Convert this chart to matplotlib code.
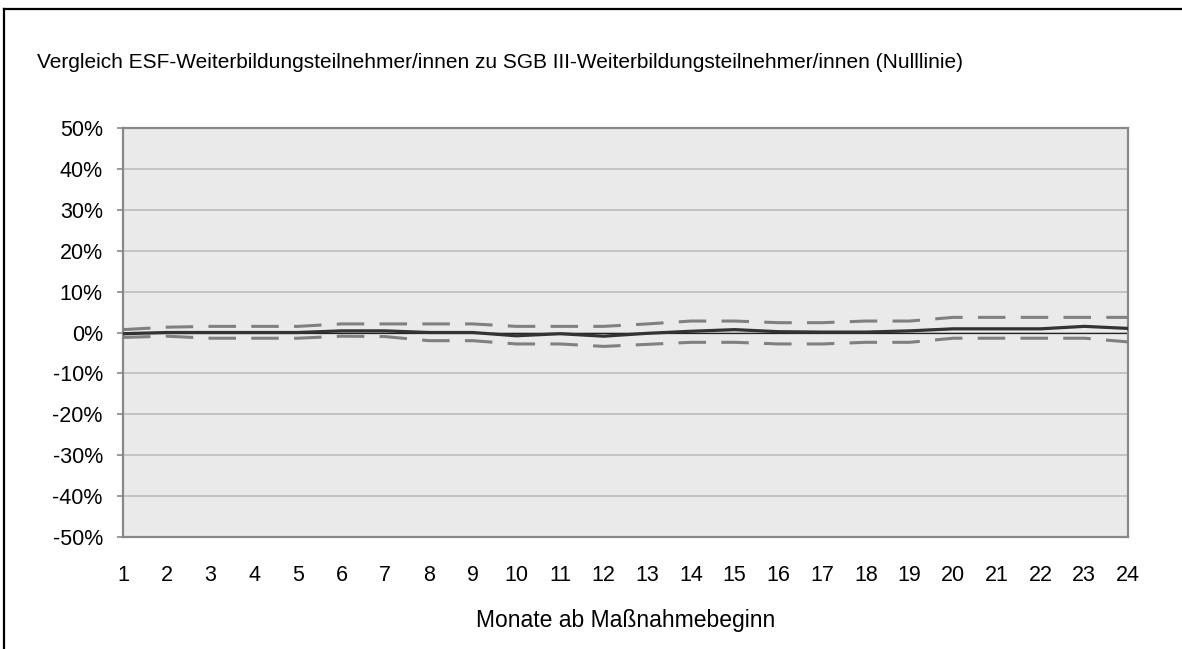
import numpy as np
import matplotlib
matplotlib.use("Agg")
import matplotlib.pyplot as plt
from matplotlib.ticker import PercentFormatter
from matplotlib.lines import Line2D

plt.rcParams['font.family'] = ['Liberation Sans', 'DejaVu Sans']
plt.rcParams['axes.unicode_minus'] = False

# ========================= DATEN (in %) =========================
monate = list(range(1, 25))
differenz = [-0.3, 0.0, 0.0, 0.0, 0.0, 0.4, 0.4, 0.0, 0.0, -0.8, -0.3, -0.9,
             -0.2, 0.3, 0.7, 0.2, 0.1, 0.1, 0.4, 0.9, 0.9, 0.9, 1.5, 1.0]
obere_grenze = [0.7, 1.3, 1.5, 1.5, 1.5, 2.1, 2.1, 2.1, 2.1, 1.5, 1.5, 1.5,
                2.1, 2.8, 2.8, 2.4, 2.4, 2.8, 2.8, 3.7, 3.7, 3.7, 3.7, 3.7]
untere_grenze = [-1.2, -0.9, -1.4, -1.4, -1.4, -0.9, -1.0, -2.0, -2.0, -2.8, -2.8, -3.4,
                 -2.9, -2.4, -2.4, -2.8, -2.8, -2.4, -2.4, -1.4, -1.4, -1.4, -1.4, -2.3]
y_ticks = list(range(-50, 51, 10))

untertitel = ("Vergleich ESF-Weiterbildungsteilnehmer/innen zu "
              "SGB III-Weiterbildungsteilnehmer/innen (Nulllinie)")
x_titel = "Monate ab Maßnahmebeginn"

# ============================= PLOT ==============================
fig = plt.figure(figsize=(11.82, 6.49), dpi=100)
ax = fig.add_axes([123 / 1182, 1 - 537 / 649, (1128 - 123) / 1182, (537 - 128) / 649])

grau = "#888888"
ax.set_facecolor("#eaeaea")
for y in y_ticks:
    ax.axhline(y, color="#bdbdbd", linewidth=1.2, zorder=1)
ax.axhline(0, color="#222222", linewidth=0.9, zorder=2)

ax.plot(monate, obere_grenze, color="#808080", linewidth=2.2, dashes=(9, 5), zorder=3)
ax.plot(monate, untere_grenze, color="#808080", linewidth=2.2, dashes=(9, 5), zorder=3)
ax.plot(monate, differenz, color="#333333", linewidth=2.3, zorder=4)

ax.set_xlim(1, 24)
ax.set_ylim(-50, 50)
ax.set_yticks(y_ticks)
ax.yaxis.set_major_formatter(PercentFormatter(xmax=100, decimals=0))
ax.set_xticks(monate)
ax.tick_params(axis="y", length=4.5, width=1.2, color=grau, pad=10, labelsize=15.5)
ax.tick_params(axis="x", length=0, pad=20, labelsize=15.5)

for s in ax.spines.values():
    s.set_color(grau)
    s.set_linewidth(1.6)

ax.set_xlabel(x_titel, fontsize=16.5, labelpad=17)

fig.text(37 / 1182, 1 - 62 / 649, untertitel, fontsize=15, va="center", ha="left")

# Rahmen oben und links
fig.add_artist(Line2D([3.5 / 1182, 1], [1 - 9 / 649, 1 - 9 / 649], color="black", linewidth=1.6))
fig.add_artist(Line2D([3.5 / 1182, 3.5 / 1182], [0, 1 - 9 / 649], color="black", linewidth=1.6))

fig.savefig("out.png", dpi=100)
